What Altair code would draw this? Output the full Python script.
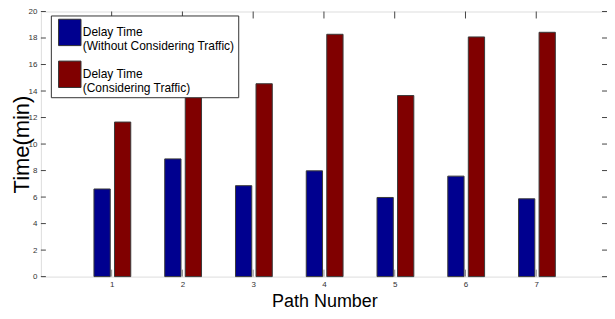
import altair as alt
import pandas as pd

paths = [1, 2, 3, 4, 5, 6, 7]
without_traffic = [6.61, 8.88, 6.86, 7.98, 5.97, 7.58, 5.87]
with_traffic = [11.66, 14.0, 14.55, 18.28, 13.66, 18.08, 18.43]
series_names = ["Delay Time|(Without Considering Traffic)", "Delay Time|(Considering Traffic)"]
y_ticks = [0, 2, 4, 6, 8, 10, 12, 14, 16, 18, 20]
x_ticks = [1, 2, 3, 4, 5, 6, 7]
colors = ["#00008F", "#800000"]

rows = []
for p, a, b in zip(paths, without_traffic, with_traffic):
    rows.append({"path": p, "value": a, "series": series_names[0], "k": 0})
    rows.append({"path": p, "value": b, "series": series_names[1], "k": 1})
df = pd.DataFrame(rows)
ydf = pd.DataFrame({"t": y_ticks})
xdf = pd.DataFrame({"t": x_ticks})

W, H = 568, 266
SANS = "Liberation Sans, Arial, sans-serif"

xscale = alt.Scale(domain=[0, 8], nice=False, zero=False)
yscale = alt.Scale(domain=[0, 20], nice=False)

xaxis = alt.Axis(values=x_ticks, format="d", tickSize=0, domain=False, grid=False,
                 labelFont=SANS, labelFontSize=8, labelColor="#333",
                 labelPadding=4, labelOverlap=False,
                 title="Path Number", titleFont=SANS,
                 titleFontSize=18, titleFontWeight="normal", titleColor="#000",
                 titleX=W / 2 + 0.5, titleY=30, titleAlign="center",
                 titleBaseline="alphabetic")
yaxis = alt.Axis(values=y_ticks, format="d", tickSize=0, domain=False, grid=False,
                 labelFont=SANS, labelFontSize=8, labelColor="#333",
                 labelPadding=4, labelOverlap=False, title="Time(min)",
                 titleFont=SANS, titleFontSize=22, titleFontWeight="normal",
                 titleColor="#000", titleX=-12, titleY=H / 2,
                 titleAngle=270, titleAlign="center", titleBaseline="alphabetic")

bars = alt.Chart(df).transform_calculate(
    x1="datum.path + (datum.k == 0 ? -0.25 : 0.04)",
    x2="datum.path + (datum.k == 0 ? -0.02 : 0.27)",
).mark_bar(stroke="#3a3a3a", strokeWidth=1).encode(
    x=alt.X("x1:Q", scale=xscale, axis=xaxis),
    x2="x2:Q",
    y=alt.Y("value:Q", scale=yscale, axis=yaxis),
    y2=alt.datum(0),
    color=alt.Color("series:N", sort=series_names,
                    scale=alt.Scale(domain=series_names, range=colors),
                    legend=alt.Legend(title=None, orient="none", legendX=10, legendY=4,
                                      padding=3, fillColor="white", strokeColor="#333",
                                      symbolType="M-0.7,-1H1V1H-0.7Z", symbolSize=700,
                                      symbolStrokeColor="#333", symbolStrokeWidth=1,
                                      symbolOpacity=1,
                                      labelFont=SANS, labelFontSize=12, labelColor="#000",
                                      labelLimit=0, labelOffset=1, rowPadding=6,
                                      labelExpr="split(datum.label, '|')")),
)

ticks_left = alt.Chart(ydf).mark_rule(color="#444").encode(
    y=alt.Y("t:Q", scale=yscale, axis=yaxis), x=alt.value(0), x2=alt.value(5))
ticks_right = alt.Chart(ydf).mark_rule(color="#444").encode(
    y=alt.Y("t:Q", scale=yscale, axis=yaxis), x=alt.value(W - 5), x2=alt.value(W))
ticks_bottom = alt.Chart(xdf).mark_rule(color="#888").encode(
    x=alt.X("t:Q", scale=xscale, axis=xaxis), y=alt.value(H - 7), y2=alt.value(H))
ticks_top = alt.Chart(xdf).mark_rule(color="#444").encode(
    x=alt.X("t:Q", scale=xscale, axis=xaxis), y=alt.value(0), y2=alt.value(7))

chart = alt.layer(bars, ticks_left, ticks_right, ticks_bottom, ticks_top).properties(
    width=W, height=H,
    autosize=alt.AutoSizeParams(type="none"),
    padding={"left": 33, "top": 3, "right": 0, "bottom": 34},
).configure_view(stroke="#444", strokeWidth=1).configure(background="white")

chart.save("out.html", embed_options={"renderer": "svg", "actions": False})
